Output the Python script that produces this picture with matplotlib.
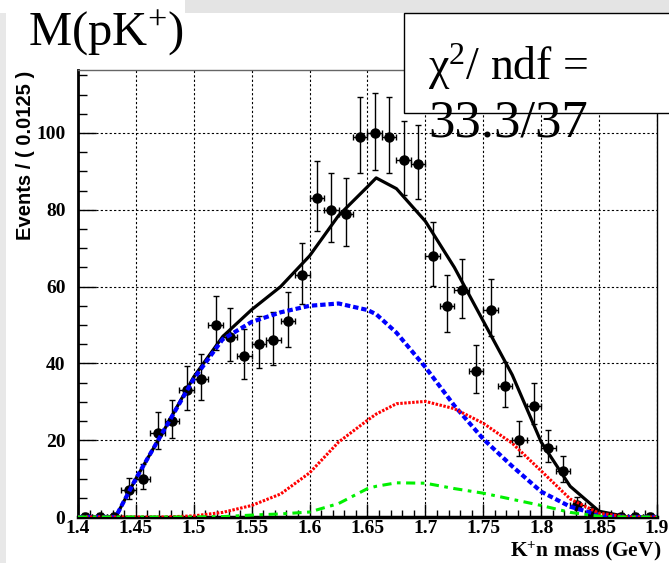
import numpy as np
import matplotlib
matplotlib.use('Agg')
from matplotlib import pyplot as plt
from matplotlib.patches import Rectangle

plt.rcParams['font.family'] = ['Liberation Serif', 'DejaVu Serif']
plt.rcParams['mathtext.fontset'] = 'custom'
plt.rcParams['mathtext.rm'] = 'Liberation Serif'
plt.rcParams['mathtext.it'] = 'Liberation Serif:italic'
plt.rcParams['mathtext.bf'] = 'Liberation Serif:bold'

# data: 40 bins of 0.0125 GeV from 1.4 to 1.9
bin_centers = 1.40625 + 0.0125 * np.arange(40)
counts = [0, 0, 0, 7, 10, 22, 25, 33, 36, 50,
          47, 42, 45, 46, 51, 63, 83, 80, 79, 99,
          100, 99, 93, 92, 68, 55, 59, 38, 54, 34,
          20, 29, 18, 12, 3, 1, 0, 0, 0, 0]

# fit components
x_curve = [1.40, 1.425, 1.4325, 1.45, 1.475, 1.5, 1.525, 1.55, 1.575, 1.6, 1.625, 1.65,
           1.6575, 1.675, 1.7, 1.725, 1.75, 1.775, 1.8, 1.825, 1.85, 1.875, 1.9]
total = [0, 0, 0, 10, 23, 36.5, 47, 54, 60, 68, 78.5, 86,
         88.3, 85.5, 77, 65, 51, 37, 19.5, 8, 1.5, 0, 0]
blue_comp = [0, 0, 0, 10, 23, 36, 46.3, 50.8, 53.3, 55, 55.6, 53.9,
             52.8, 48, 39, 29, 20.3, 13.2, 6.6, 2.7, 0.5, 0, 0]
red_comp = [0, 0, 0, 0, 0, 0.3, 1.2, 3, 6, 11.5, 19.5, 25.2,
            26.8, 29.5, 30.1, 28.2, 24.4, 19.2, 12, 4.7, 1, 0, 0]
green_comp = [0, 0, 0, 0, 0, 0, 0.1, 0.5, 0.8, 1.3, 3.5, 7.4,
              8.0, 8.9, 8.8, 7.4, 6.2, 4.6, 3.0, 1.2, 0.2, 0, 0]

counts = np.array(counts, dtype=float)
err_lo = np.where(counts > 0, np.sqrt(counts + 0.25) - 0.5, 0)
err_hi = np.sqrt(counts + 0.25) + 0.5

fig = plt.figure(figsize=(6.69, 5.63), dpi=100)
ax = fig.add_axes([78 / 669, 46 / 563, 579 / 669, 447 / 563])

ax.errorbar(bin_centers, counts, yerr=[err_lo, err_hi], xerr=0.00625, fmt='o',
            color='black', ms=6.5, elinewidth=1, capsize=2.2, capthick=1, zorder=3)
ax.plot(x_curve, total, color='black', lw=2.3, zorder=4)
ax.plot(x_curve, blue_comp, color='#0000ff', lw=3, dashes=(1.3, 0.7), zorder=5)
ax.plot(x_curve, red_comp, color='#ff0000', lw=2.2, dashes=(0.8, 0.5), zorder=6)
ax.plot(x_curve, green_comp, color='#00f000', lw=2.2, dashes=(3, 1.8, 1.2, 1.8), zorder=7)

ax.set_xlim(1.4, 1.9)
ax.set_ylim(0, 116.4)
ax.set_xticks(np.arange(1.4, 1.901, 0.05))
ax.set_xticklabels(['1.4', '1.45', '1.5', '1.55', '1.6', '1.65', '1.7', '1.75', '1.8', '1.85', '1.9'])
ax.set_xticks(np.arange(1.4, 1.901, 0.01), minor=True)
ax.set_yticks([0, 20, 40, 60, 80, 100])
ax.set_yticks(np.arange(0, 116, 5), minor=True)
ax.grid(True, which='major', color='black', lw=0.8, linestyle=(0, (2, 2)))

ax.tick_params(axis='x', which='major', direction='in', length=9.5, width=1, pad=2,
               labelsize=14)
ax.tick_params(axis='x', which='minor', direction='in', length=5, width=1)
ax.tick_params(axis='y', which='major', direction='in', length=13, width=1, pad=9,
               labelsize=14)
ax.tick_params(axis='y', which='minor', direction='in', length=6.5, width=1)
for lab in ax.get_xticklabels() + ax.get_yticklabels():
    lab.set_fontweight('bold')

ax.spines['left'].set_linewidth(2)
ax.spines['bottom'].set_linewidth(2.5)
ax.spines['top'].set_linewidth(1)
ax.spines['top'].set_color('#666666')
ax.spines['right'].set_linewidth(1)

fig.text(26 / 669, 1 - 71 / 563, 'Events / ( 0.0125 )', rotation=90, ha='center', va='top',
         family=['Liberation Sans', 'DejaVu Sans'], fontweight='bold', fontsize=14.5)
fig.text(661 / 669, 1 - 551 / 563, r'K$^{\mathbf{+}}$n mass (GeV)', ha='right', va='center',
         fontweight='bold', fontsize=15.5)

# canvas decorations
fig.patches.append(Rectangle((185 / 669, 1 - 13 / 563), 1, 13 / 563, transform=fig.transFigure,
                             facecolor='#e4e4e4', edgecolor='none', zorder=1))
fig.patches.append(Rectangle((0, 0), 6 / 669, 1 - 13 / 563, transform=fig.transFigure,
                             facecolor='#e8e8e8', edgecolor='none', zorder=1))
fig.patches.append(Rectangle((404 / 669, 1 - 113 / 563), 1, 100 / 563, transform=fig.transFigure,
                             facecolor='white', edgecolor='black', lw=1, zorder=2))

fig.text(28 / 669, 1 - 45 / 563, r'M(pK$^{+}$)', ha='left', va='baseline', fontsize=35)
fig.text(428 / 669, 1 - 80 / 563, '\u03c7$^{2}$/ ndf =', ha='left', va='baseline', fontsize=33)
fig.text(428 / 669, 1 - 136 / 563, '33.3/37', ha='left', va='baseline', fontsize=38)

plt.savefig('out.png', dpi=100)
